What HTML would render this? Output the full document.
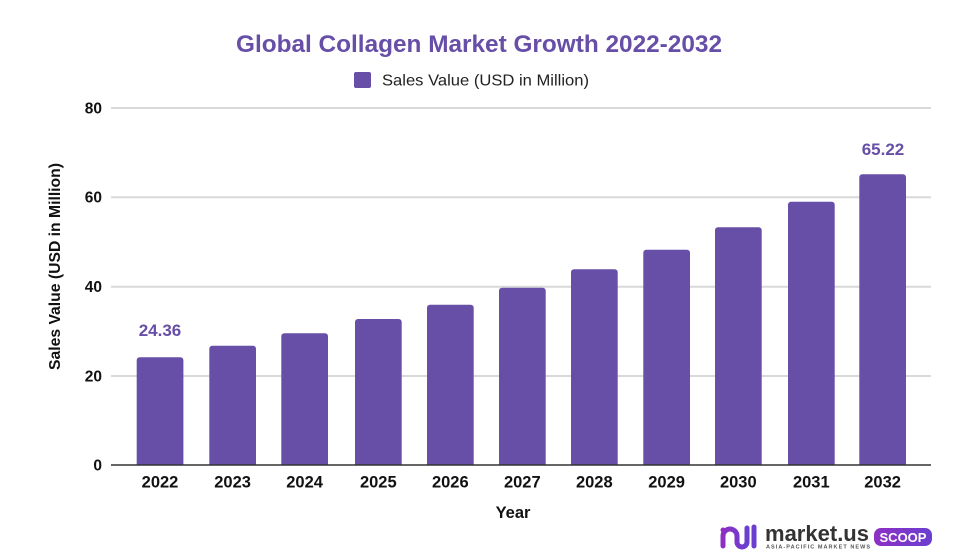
<!DOCTYPE html>
<html><head><meta charset="utf-8"><style>
html,body{margin:0;padding:0;background:#fff;}
svg{display:block;font-family:"Liberation Sans",Arial,sans-serif;}
</style></head><body>
<svg width="960" height="560" viewBox="0 0 960 560" xmlns="http://www.w3.org/2000/svg">
<defs>
<linearGradient id="lg" x1="0" x2="1" y1="0" y2="0"><stop offset="0" stop-color="#8e2fc4"/><stop offset="1" stop-color="#6a3fd0"/></linearGradient>
</defs>
<rect width="960" height="560" fill="#fff"/>
<text x="479" y="52" text-anchor="middle" font-size="24" font-weight="bold" fill="#674ea7" textLength="486" lengthAdjust="spacingAndGlyphs">Global Collagen Market Growth 2022-2032</text>
<rect x="354" y="72" width="17" height="16" rx="2" fill="#674ea7"/>
<text x="382" y="85.5" font-size="16" fill="#222" textLength="207" lengthAdjust="spacingAndGlyphs">Sales Value (USD in Million)</text>
<g stroke="#d9d9d9" stroke-width="2">
<line x1="111" x2="931" y1="108" y2="108"/>
<line x1="111" x2="931" y1="197.3" y2="197.3"/>
<line x1="111" x2="931" y1="286.7" y2="286.7"/>
<line x1="111" x2="931" y1="376" y2="376"/>
</g>
<g font-size="15.5" font-weight="bold" fill="#111" text-anchor="end">
<text x="102" y="113.5">80</text>
<text x="102" y="202.5">60</text>
<text x="102" y="292">40</text>
<text x="102" y="381.5">20</text>
<text x="102" y="470.5">0</text>
</g>
<text transform="translate(60,266.5) rotate(-90)" text-anchor="middle" font-size="15.5" font-weight="bold" fill="#111" textLength="207" lengthAdjust="spacingAndGlyphs">Sales Value (USD in Million)</text>
<g fill="#674ea7">
<path d="M136.7 465V360.3a3 3 0 0 1 3-3h40.7a3 3 0 0 1 3 3V465Z"/>
<path d="M209.3 465V348.7a3 3 0 0 1 3-3h40.7a3 3 0 0 1 3 3V465Z"/>
<path d="M281.3 465V336.3a3 3 0 0 1 3-3h40.7a3 3 0 0 1 3 3V465Z"/>
<path d="M355 465V322a3 3 0 0 1 3-3h40.7a3 3 0 0 1 3 3V465Z"/>
<path d="M427 465V307.7a3 3 0 0 1 3-3h40.7a3 3 0 0 1 3 3V465Z"/>
<path d="M499 465V290.7a3 3 0 0 1 3-3h40.7a3 3 0 0 1 3 3V465Z"/>
<path d="M571 465V272.3a3 3 0 0 1 3-3h40.7a3 3 0 0 1 3 3V465Z"/>
<path d="M643.3 465V252.7a3 3 0 0 1 3-3h40.7a3 3 0 0 1 3 3V465Z"/>
<path d="M715 465V230.3a3 3 0 0 1 3-3h40.7a3 3 0 0 1 3 3V465Z"/>
<path d="M788 465V204.7a3 3 0 0 1 3-3h40.7a3 3 0 0 1 3 3V465Z"/>
<path d="M859.3 465V177.3a3 3 0 0 1 3-3h40.7a3 3 0 0 1 3 3V465Z"/>
</g>
<line x1="111" x2="931" y1="465" y2="465" stroke="#333" stroke-width="1.5"/>
<g font-size="17" font-weight="bold" fill="#674ea7" text-anchor="middle">
<text x="160" y="336">24.36</text>
<text x="883" y="155">65.22</text>
</g>
<g font-size="16.5" font-weight="bold" fill="#111" text-anchor="middle">
<text x="160" y="487.5">2022</text>
<text x="232.6" y="487.5">2023</text>
<text x="304.6" y="487.5">2024</text>
<text x="378.3" y="487.5">2025</text>
<text x="450.3" y="487.5">2026</text>
<text x="522.3" y="487.5">2027</text>
<text x="594.3" y="487.5">2028</text>
<text x="666.6" y="487.5">2029</text>
<text x="738.3" y="487.5">2030</text>
<text x="811.3" y="487.5">2031</text>
<text x="882.6" y="487.5">2032</text>
</g>
<text x="513" y="518" text-anchor="middle" font-size="16.5" font-weight="bold" fill="#111">Year</text>
<!-- logo -->
<g>
<path d="M723 546v-10a7 7 0 0 1 14 0v6a5 5 0 0 0 10 0v-14" fill="none" stroke="url(#lg)" stroke-width="5" stroke-linecap="round"/>
<line x1="754" y1="527" x2="754" y2="546" stroke="#6a3fd0" stroke-width="5" stroke-linecap="round"/>
<circle cx="723" cy="530" r="2.5" fill="#8e2fc4"/>
<text x="765" y="541" font-size="22.5" font-weight="bold" fill="#333" textLength="104" lengthAdjust="spacingAndGlyphs">market.us</text>
<text x="766" y="548.5" font-size="5.5" font-weight="bold" fill="#555" textLength="104" lengthAdjust="spacing">ASIA-PACIFIC MARKET NEWS</text>
<rect x="874" y="528" width="58" height="18" rx="7" fill="url(#lg)"/>
<text x="903" y="542" text-anchor="middle" font-size="13" font-weight="bold" fill="#fff">SCOOP</text>
</g>
</svg>
</body></html>
